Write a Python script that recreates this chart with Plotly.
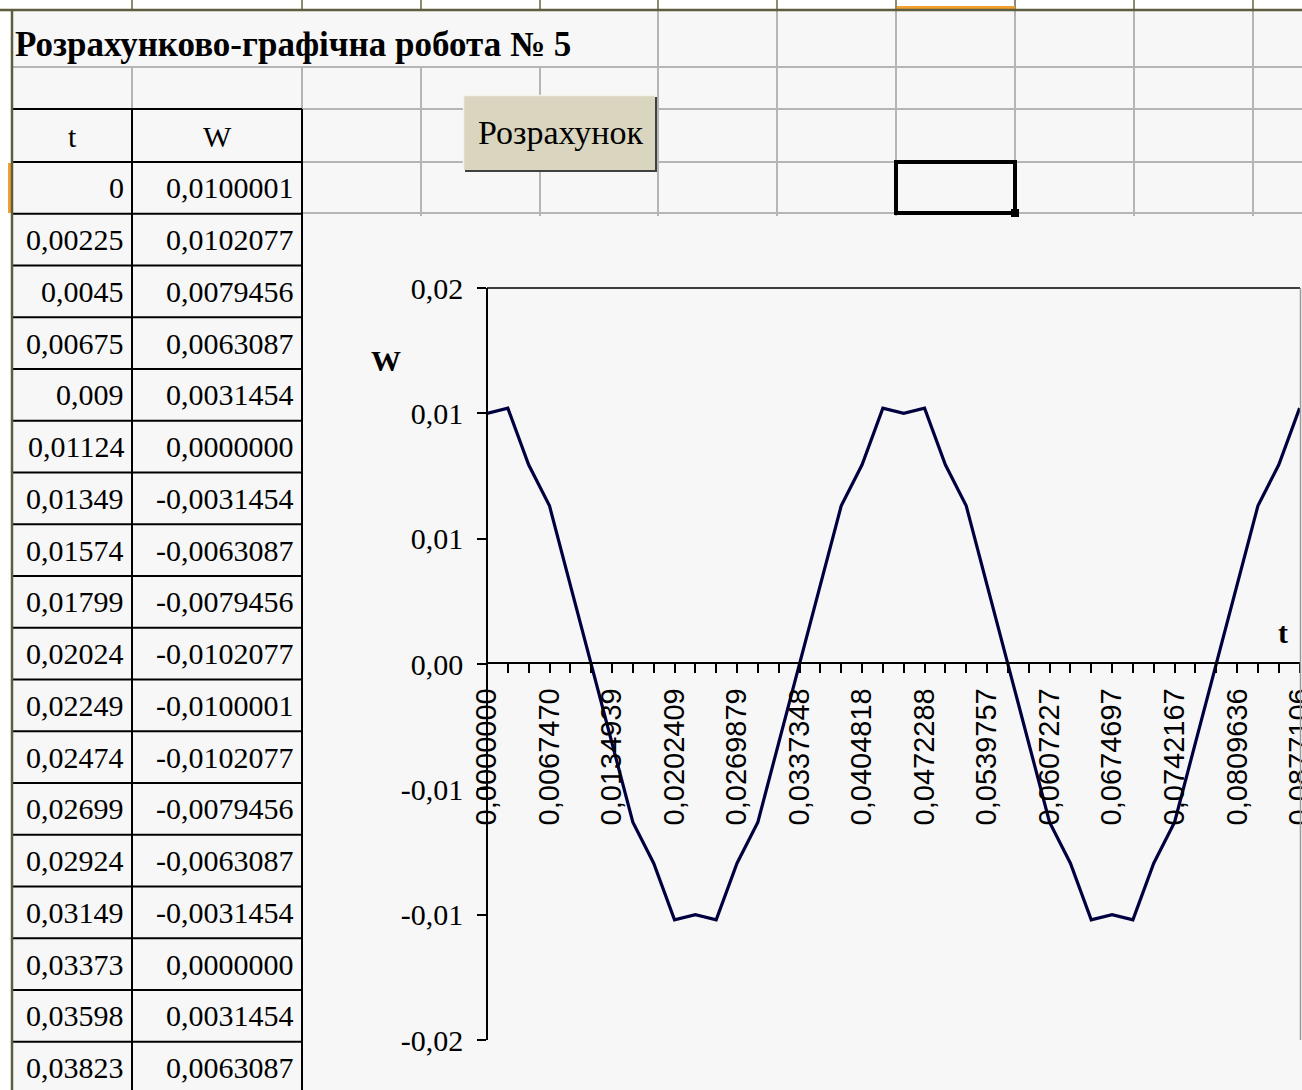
import plotly.graph_objects as go

# ---------------- data ----------------
t_values = [0.0000000, 0.0022490, 0.0044980, 0.0067470, 0.0089960, 0.0112449, 0.0134939,
            0.0157429, 0.0179919, 0.0202409, 0.0224899, 0.0247389, 0.0269879, 0.0292369,
            0.0314858, 0.0337348, 0.0359838, 0.0382328, 0.0404818, 0.0427308, 0.0449798,
            0.0472288, 0.0494777, 0.0517267, 0.0539757, 0.0562247, 0.0584737, 0.0607227,
            0.0629717, 0.0652207, 0.0674697, 0.0697186, 0.0719676, 0.0742167, 0.0764656,
            0.0787146, 0.0809636, 0.0832126, 0.0854616, 0.0877106]
w_values = [0.0100001, 0.0102077, 0.0079456, 0.0063087, 0.0031454, 0.0000000, -0.0031454,
            -0.0063087, -0.0079456, -0.0102077, -0.0100001, -0.0102077, -0.0079456, -0.0063087,
            -0.0031454, 0.0000000, 0.0031454, 0.0063087, 0.0079456, 0.0102077, 0.0100001,
            0.0102077, 0.0079456, 0.0063087, 0.0031454, 0.0000000, -0.0031454, -0.0063087,
            -0.0079456, -0.0102077, -0.0100001, -0.0102077, -0.0079456, -0.0063087, -0.0031454,
            0.0000000, 0.0031454, 0.0063087, 0.0079456, 0.0102077]
y_tick_vals = [0.015, 0.01, 0.005, 0.0, -0.005, -0.01, -0.015]
y_tick_text = ["0,02", "0,01", "0,01", "0,00", "-0,01", "-0,01", "-0,02"]
x_label_step = 3
table_rows_shown = 18

title_text = "Розрахунково-графічна робота № 5"
button_text = "Розрахунок"
col_head_t = "t"
col_head_w = "W"

# ---------------- helpers ----------------
FW, FH = 1302, 1090


def px(x):
    return x / FW


def py(y):
    return 1 - y / FH


def fmt_t(v):
    s = f"{v:.5f}".rstrip("0").rstrip(".")
    return s.replace(".", ",")


def fmt_w(v):
    return f"{v:.7f}".replace(".", ",")


x_tick_text = [f"{v:.7f}".replace(".", ",") if i % x_label_step == 0 else ""
               for i, v in enumerate(t_values)]

SERIF = "Liberation Serif, Times New Roman, serif"
SANS = "Liberation Sans, Arial, sans-serif"
BG = "#f7f7f7"
GRID = "#b5b5b5"
OLIVE = "#5e5e3e"

shapes = []
annotations = []


def line(x0, y0, x1, y1, color, width):
    shapes.append(dict(type="line", xref="paper", yref="paper",
                       x0=px(x0), y0=py(y0), x1=px(x1), y1=py(y1),
                       line=dict(color=color, width=width)))


def rect(x0, y0, x1, y1, fill, lcolor=None, lwidth=0):
    shapes.append(dict(type="rect", xref="paper", yref="paper",
                       x0=px(x0), y0=py(y1), x1=px(x1), y1=py(y0),
                       fillcolor=fill,
                       line=dict(color=lcolor or fill, width=lwidth)))


def text(x, y, s, size, family=SERIF, xanchor="center", bold=False):
    if bold:
        s = f"<b>{s}</b>"
    annotations.append(dict(x=px(x), y=py(y), xref="paper", yref="paper", text=s,
                            showarrow=False, xanchor=xanchor, yanchor="middle",
                            font=dict(family=family, size=size, color="black")))


# ---------------- spreadsheet frame ----------------
rect(0, 0, FW, 10, "#ffffff")
rect(0, 0, 12, FH, "#ffffff")
cols = [132, 302, 421, 540, 658, 777, 896, 1015, 1134, 1253]
for cx in cols:
    line(cx, 0, cx, 10, "#8c8c70", 2)
rect(897, 6, 1015, 10, "#f0a030")
rect(8, 163, 12, 213, "#f0a030")

# gray grid lines
for cx in cols:
    if cx in (132, 302):
        line(cx, 67, cx, 109, GRID, 2)
    else:
        y_start = 10 if cx >= 658 else 67
        line(cx, y_start, cx, 216, GRID, 2)
line(12, 67, FW, 67, GRID, 2)
for ry in (109, 162, 213):
    line(302, ry, FW, ry, GRID, 2)

# table borders
row_h = 51.75
row_tops = [162 + row_h * k for k in range(table_rows_shown + 1)]
for ry in [109] + row_tops:
    line(12, ry, 302, ry, "black", 2)
for cx in (132, 302):
    line(cx, 109, cx, FH, "black", 2)

# olive sheet edges
line(0, 10, FW, 10, OLIVE, 2.5)
line(12, 10, 12, FH, OLIVE, 2.5)

# table text
text(72, 137, col_head_t, 30)
text(217, 137, col_head_w, 30)
for k in range(table_rows_shown):
    yc = row_tops[k] + row_h / 2
    text(126, yc, fmt_t(t_values[k]), 30, xanchor="right")
    text(296, yc, fmt_w(w_values[k]), 30, xanchor="right")

# title
text(13, 44, title_text, 35, xanchor="left", bold=True)

# button
rect(465, 97, 657, 172, "#404040")
rect(463, 95, 655, 170, "#dad5be")
line(463, 95.5, 655, 95.5, "#f4f2ea", 1.5)
line(463.5, 95, 463.5, 170, "#f4f2ea", 1.5)
text(560, 132, button_text, 34)

# selected cell
shapes.append(dict(type="rect", xref="paper", yref="paper",
                   x0=px(896), y0=py(213), x1=px(1015), y1=py(162),
                   line=dict(color="black", width=4)))
rect(1011, 209, 1019, 217, "black")

# ---------------- chart ----------------
fig = go.Figure(go.Scatter(x=t_values, y=w_values, mode="lines",
                           line=dict(color="#000040", width=3.2),
                           hoverinfo="skip", showlegend=False))

# plot area top / right border
line(487, 288, 1300, 288, "black", 1.5)
line(1300.5, 288, 1300.5, 1040, "#9a9a9a", 1.5)

# axis titles
text(386, 360, "W", 30, bold=True)
text(1283, 632, "t", 30, bold=True)

x_span = t_values[-1] - t_values[0]

fig.update_layout(
    width=FW, height=FH,
    margin=dict(l=0, r=0, t=0, b=0, autoexpand=False),
    paper_bgcolor=BG, plot_bgcolor="rgba(0,0,0,0)",
    showlegend=False,
    shapes=shapes, annotations=annotations,
    xaxis=dict(range=[t_values[0], t_values[-1] + x_span * 0.0005],
               domain=[px(487), px(1300)],
               anchor="free", position=py(663),
               showline=True, linecolor="black", linewidth=1.5,
               ticks="outside", ticklen=9, tickwidth=1.5, tickcolor="black",
               tickvals=t_values, ticktext=x_tick_text, tickangle=-90,
               ticklabelstandoff=4, ticklabeloverflow="allow",
               tickfont=dict(family=SANS, size=29, color="black"),
               showgrid=False, zeroline=False),
    yaxis=dict(range=[-0.015, 0.015], domain=[py(1040), py(288)],
               anchor="free", position=px(487),
               showline=True, linecolor="black", linewidth=1.5,
               ticks="outside", ticklen=9, tickwidth=1.5, tickcolor="black",
               tickvals=y_tick_vals, ticktext=y_tick_text,
               ticklabelstandoff=8,
               tickfont=dict(family=SERIF, size=30, color="black"),
               showgrid=False, zeroline=False),
)

fig.write_html("out.html")
